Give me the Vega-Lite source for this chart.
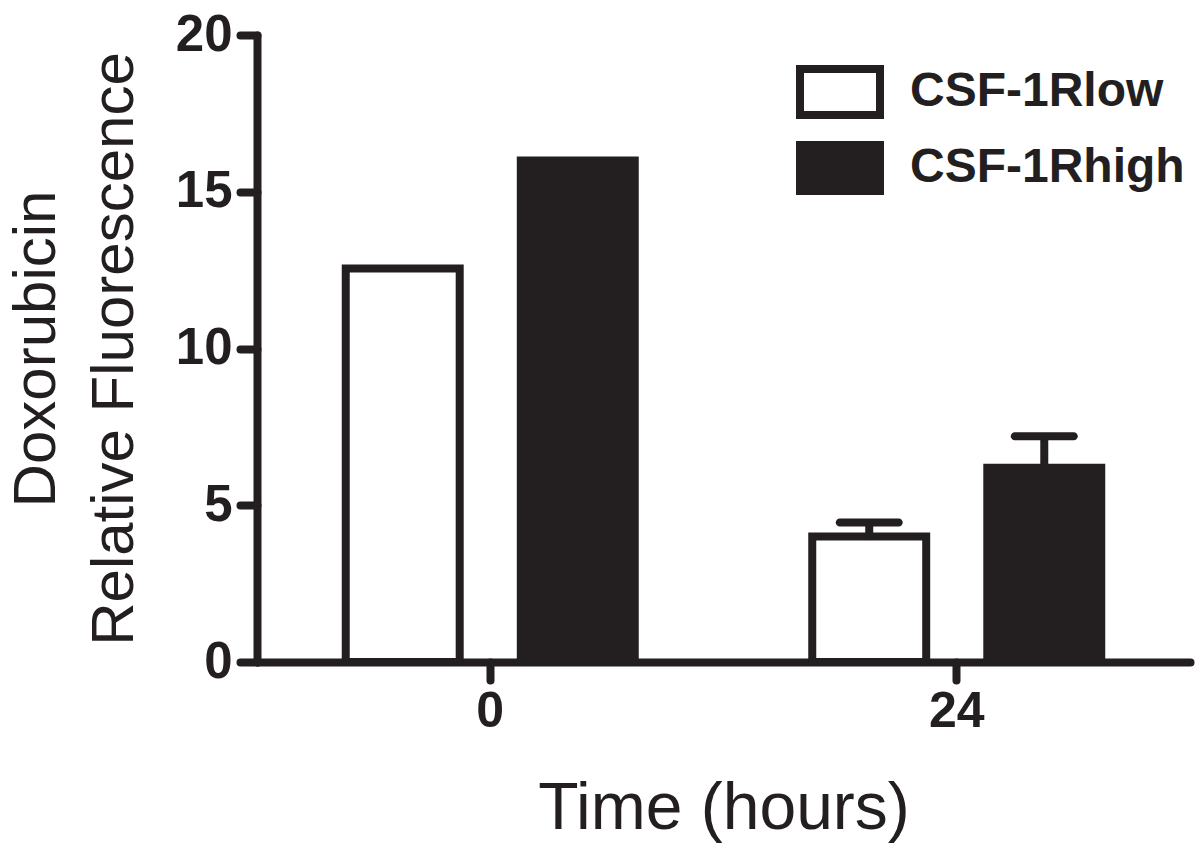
{
  "$schema": "https://vega.github.io/schema/vega-lite/v6.json",
  "width": 933,
  "height": 627,
  "autosize": {"type": "none"},
  "padding": {"left": 257, "top": 35, "right": 10, "bottom": 188},
  "background": "white",
  "data": {
    "values": [
      {"time": "0", "group": "CSF-1Rlow", "value": 12.55},
      {"time": "0", "group": "CSF-1Rhigh", "value": 16.0},
      {"time": "24", "group": "CSF-1Rlow", "value": 4.0, "upper": 4.45},
      {"time": "24", "group": "CSF-1Rhigh", "value": 6.2, "upper": 7.2}
    ]
  },
  "encoding": {
    "x": {
      "field": "time",
      "type": "nominal",
      "sort": ["0", "24"],
      "scale": {"paddingInner": 0, "paddingOuter": 0},
      "axis": {
        "labelAngle": 0,
        "labelFontSize": 50,
        "labelFontWeight": "bold",
        "labelPadding": 6,
        "tickSize": 18,
        "title": "Time (hours)",
        "titleFontSize": 66,
        "titleFontWeight": "normal",
        "titlePadding": 40
      }
    },
    "xOffset": {
      "field": "group",
      "type": "nominal",
      "sort": ["CSF-1Rlow", "CSF-1Rhigh"],
      "scale": {"paddingInner": 0.349, "paddingOuter": 0.507}
    }
  },
  "layer": [
    {
      "mark": {"type": "bar", "stroke": "#231f20", "strokeWidth": 8, "strokeJoin": "miter", "opacity": 1},
      "encoding": {
        "y": {
          "field": "value",
          "type": "quantitative",
          "scale": {"domain": [0, 20], "nice": false},
          "axis": {
            "values": [0, 5, 10, 15, 20],
            "grid": false,
            "labelFontSize": 51,
            "labelFontWeight": "bold",
            "labelPadding": 8,
            "tickSize": 17,
            "title": ["Doxorubicin", "Relative Fluorescence"],
            "titleFontSize": 60,
            "titleFontWeight": "normal",
            "titleLineHeight": 78,
            "titlePadding": 30
          }
        },
        "fill": {
          "field": "group",
          "type": "nominal",
          "sort": ["CSF-1Rlow", "CSF-1Rhigh"],
          "scale": {"domain": ["CSF-1Rlow", "CSF-1Rhigh"], "range": ["#ffffff", "#231f20"]},
          "legend": {
            "title": null,
            "orient": "none",
            "legendX": 547,
            "legendY": 21,
            "symbolType": "M-1.25,-0.72H1.25V0.72H-1.25Z",
            "symbolSize": 4096,
            "symbolStrokeWidth": 8,
            "symbolStrokeColor": "#231f20",
            "symbolOpacity": 1,
            "labelFontSize": 48,
            "labelFontWeight": "bold",
            "labelColor": "#231f20",
            "labelFont": "Liberation Sans",
            "labelLimit": 0,
            "labelOffset": 34,
            "rowPadding": -4
          }
        }
      }
    },
    {
      "transform": [{"filter": "isValid(datum.upper)"}],
      "mark": {"type": "rule", "stroke": "#231f20", "strokeWidth": 8},
      "encoding": {
        "y": {"field": "value", "type": "quantitative"},
        "y2": {"field": "upper"}
      }
    },
    {
      "transform": [{"filter": "isValid(datum.upper)"}],
      "mark": {"type": "tick", "color": "#231f20", "size": 67, "thickness": 8, "cornerRadius": 4, "opacity": 1},
      "encoding": {
        "y": {"field": "upper", "type": "quantitative"}
      }
    }
  ],
  "config": {
    "view": {"stroke": null},
    "font": "Liberation Sans",
    "axis": {
      "domainColor": "#231f20",
      "domainWidth": 8,
      "domainCap": "round",
      "tickColor": "#231f20",
      "tickWidth": 8,
      "tickCap": "round",
      "labelColor": "#231f20",
      "titleColor": "#231f20",
      "labelFont": "Liberation Sans",
      "titleFont": "Liberation Sans"
    }
  }
}
